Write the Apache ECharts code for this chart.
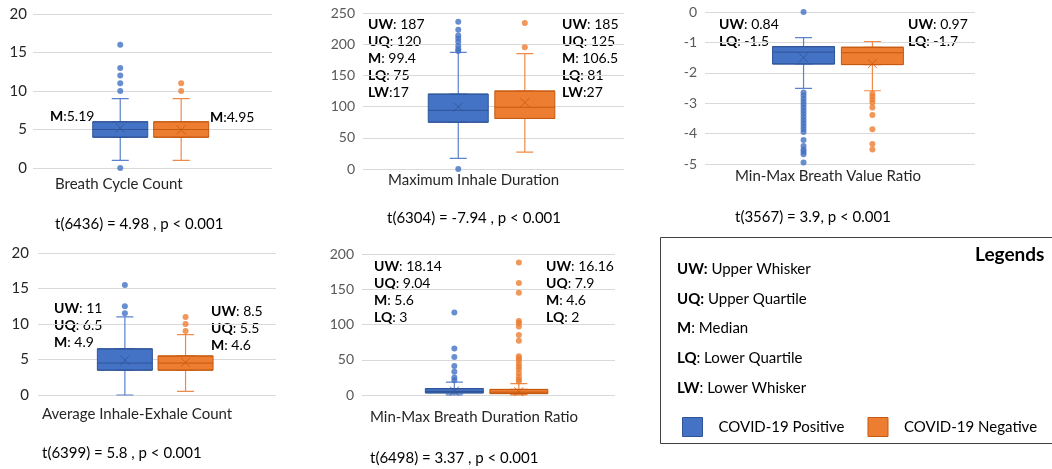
<!DOCTYPE html>
<html>
<head>
<meta charset="utf-8">
<script src="https://cdn.jsdelivr.net/npm/echarts@6/dist/echarts.min.js"></script>
<style>
  html, body { margin: 0; padding: 0; background: #fff; }
  #chart { width: 1052px; height: 469px; }
</style>
</head>
<body>
<div id="chart"></div>
<script>
// ---- Data -------------------------------------------------------------
const groupNames = ['COVID-19 Positive', 'COVID-19 Negative'];

// Box values: [lower whisker, lower quartile, median, upper quartile, upper whisker]
// Breath Cycle Count
const cycleTitle = 'Breath Cycle Count';
const cycleTest = 't(6436) = 4.98 , p < 0.001';
const cycleAxis = [0, 20, 5];
const cycleBoxPos = [1, 4, 5, 6, 9];
const cycleBoxNeg = [1, 4, 5, 6, 9];
const cycleMean = [5.19, 4.95];
const cycleOutPos = [16, 13, 12, 11, 10, 0];
const cycleOutNeg = [11, 10];
const cycleNotesPos = [['M', ':5.19']];
const cycleNotesNeg = [['M', ':4.95']];

// Maximum Inhale Duration
const inhaleTitle = 'Maximum Inhale Duration';
const inhaleTest = 't(6304) = -7.94 , p < 0.001';
const inhaleAxis = [0, 250, 50];
const inhaleBoxPos = [17, 75, 94, 120, 187];
const inhaleBoxNeg = [27, 81, 99, 125, 185];
const inhaleMean = [99.4, 106.5];
const inhaleOutPos = [236, 223, 214, 209, 204, 197, 192, 189, 0];
const inhaleOutNeg = [234, 195];
const inhaleNotesPos = [['UW', ': 187'], ['UQ', ': 120'], ['M', ': 99.4'], ['LQ', ': 75'], ['LW', ':17']];
const inhaleNotesNeg = [['UW', ': 185'], ['UQ', ': 125'], ['M', ': 106.5'], ['LQ', ': 81'], ['LW', ':27']];

// Min-Max Breath Value Ratio
const valueTitle = 'Min-Max Breath Value Ratio';
const valueTest = 't(3567) = 3.9, p < 0.001';
const valueAxis = [-5, 0, 1];
const valueBoxPos = [-2.51, -1.71, -1.32, -1.14, -0.84];
const valueBoxNeg = [-2.59, -1.73, -1.34, -1.16, -0.97];
const valueMean = [-1.5, -1.7];
const valueOutPos = [0, -2.65, -2.75, -2.85, -2.95, -3.05, -3.15, -3.25, -3.35, -3.45, -3.55,
  -3.65, -3.75, -3.85, -3.95, -4.21, -4.41, -4.52, -4.6, -4.68, -4.95];
const valueOutNeg = [-2.68, -2.78, -2.88, -2.98, -3.14, -3.39, -3.86, -4.34, -4.52];
const valueNotesPos = [['UW', ': 0.84'], ['LQ', ': -1.5']];
const valueNotesNeg = [['UW', ': 0.97'], ['LQ', ': -1.7']];

// Average Inhale-Exhale Count
const avgTitle = 'Average Inhale-Exhale Count';
const avgTest = 't(6399) = 5.8 , p < 0.001';
const avgAxis = [0, 20, 5];
const avgBoxPos = [0, 3.5, 4.5, 6.5, 11];
const avgBoxNeg = [0.5, 3.5, 4.5, 5.5, 8.5];
const avgMean = [4.9, 4.6];
const avgOutPos = [15.5, 12.5, 11.5];
const avgOutNeg = [11, 10, 9];
const avgNotesPos = [['UW', ': 11'], ['UQ', ': 6.5'], ['M', ': 4.9']];
const avgNotesNeg = [['UW', ': 8.5'], ['UQ', ': 5.5'], ['M', ': 4.6']];

// Min-Max Breath Duration Ratio
const durTitle = 'Min-Max Breath Duration Ratio';
const durTest = 't(6498) = 3.37 , p < 0.001';
const durAxis = [0, 200, 50];
const durBoxPos = [0.3, 3, 5, 9.04, 18.14];
const durBoxNeg = [0.3, 2, 4, 7.9, 16.16];
const durMean = [5.6, 4.6];
const durOutPos = [117, 66, 54, 41, 33, 25, 21];
const durOutNeg = [188, 159, 145, 105, 102, 97, 85, 77, 55, 52, 49, 44, 40, 36, 31, 26, 22, 19];
const durNotesPos = [['UW', ': 18.14'], ['UQ', ': 9.04'], ['M', ': 5.6'], ['LQ', ': 3']];
const durNotesNeg = [['UW', ': 16.16'], ['UQ', ': 7.9'], ['M', ': 4.6'], ['LQ', ': 2']];

// Legend key
const legendTitle = 'Legends';
const legendKey = [['UW:', ' Upper Whisker'], ['UQ:', ' Upper Quartile'], ['M', ': Median'],
  ['LQ', ': Lower Quartile'], ['LW', ': Lower Whisker']];

// ---- Layout & style ---------------------------------------------------
const FONT = 'Lato, "Open Sans", sans-serif';
const fill = ['#4472C4', '#ED7D31'];
const edge = ['#2F5597', '#C55A11'];
const whisk = ['#5B82CB', '#EE8A48'];
const slot = [0.365, 0.62];   // horizontal position of each group inside a panel

const panels = [
  { title: cycleTitle, test: cycleTest, axis: cycleAxis, box: [cycleBoxPos, cycleBoxNeg], mean: cycleMean,
    out: [cycleOutPos, cycleOutNeg], notes: [cycleNotesPos, cycleNotesNeg],
    rect: { left: 33, top: 14, width: 239, height: 154 }, tickColor: '#262626', tickSize: 15, tickMargin: 6,
    notePos: [[50, 116], [210, 117]], titlePos: [55, 184], testPos: [55, 224] },
  { title: inhaleTitle, test: inhaleTest, axis: inhaleAxis, box: [inhaleBoxPos, inhaleBoxNeg], mean: inhaleMean,
    out: [inhaleOutPos, inhaleOutNeg], notes: [inhaleNotesPos, inhaleNotesNeg],
    rect: { left: 363, top: 13, width: 261, height: 156 }, tickColor: '#595959', tickSize: 14, tickMargin: 8,
    notePos: [[368, 24], [562, 24]], titlePos: [388, 180], testPos: [387, 218] },
  { title: valueTitle, test: valueTest, axis: valueAxis, box: [valueBoxPos, valueBoxNeg], mean: valueMean,
    out: [valueOutPos, valueOutNeg], notes: [valueNotesPos, valueNotesNeg],
    rect: { left: 705, top: 12, width: 270, height: 152 }, tickColor: '#595959', tickSize: 14, tickMargin: 8,
    notePos: [[719, 24], [908, 24]], titlePos: [735, 176], testPos: [735, 217] },
  { title: avgTitle, test: avgTest, axis: avgAxis, box: [avgBoxPos, avgBoxNeg], mean: avgMean,
    out: [avgOutPos, avgOutNeg], notes: [avgNotesPos, avgNotesNeg],
    rect: { left: 38, top: 253, width: 238, height: 142 }, tickColor: '#262626', tickSize: 15, tickMargin: 9,
    notePos: [[54, 308], [211, 311]], titlePos: [42, 414], testPos: [42, 453] },
  { title: durTitle, test: durTest, axis: durAxis, box: [durBoxPos, durBoxNeg], mean: durMean,
    out: [durOutPos, durOutNeg], notes: [durNotesPos, durNotesNeg],
    rect: { left: 362, top: 254, width: 253, height: 141 }, tickColor: '#595959', tickSize: 14, tickMargin: 8,
    notePos: [[374, 266], [546, 266]], titlePos: [370, 417], testPos: [370, 458] }
];

const NOTE_STEP = 17;
const crossPath = 'path://M0,0L10,10M10,0L0,10';

const grid = [], xAxis = [], yAxis = [], series = [], graphic = [];

panels.forEach(function (p, pi) {
  grid.push(Object.assign({ containLabel: false }, p.rect));
  yAxis.push({
    type: 'value', gridIndex: pi, min: p.axis[0], max: p.axis[1], interval: p.axis[2],
    axisLine: { show: false }, axisTick: { show: false },
    splitLine: { lineStyle: { color: '#D9D9D9', width: 1 } },
    axisLabel: { color: p.tickColor, fontSize: p.tickSize, fontFamily: FONT, margin: p.tickMargin }
  });
  const boxW = Math.round(p.rect.width * 0.23);
  // four hidden x axes per panel: whisker + box layer for each group
  const axisBase = xAxis.length;
  for (let k = 0; k < 4; k++) {
    xAxis.push({ type: 'value', gridIndex: pi, min: 0, max: 1, show: false });
  }
  [0, 1].forEach(function (g) {
    const b = p.box[g];
    const x = slot[g];
    // whiskers with short caps
    series.push({
      type: 'boxplot', xAxisIndex: axisBase + g * 2, yAxisIndex: pi, boxWidth: [17, 17],
      silent: true, z: 2,
      itemStyle: { color: fill[g], borderColor: whisk[g], borderWidth: 1.2 },
      data: [[x].concat(b)]
    });
    // box body with the median line
    series.push({
      type: 'boxplot', name: groupNames[g], xAxisIndex: axisBase + g * 2 + 1, yAxisIndex: pi,
      boxWidth: [boxW, boxW], silent: true, z: 3,
      itemStyle: { color: fill[g], borderColor: edge[g], borderWidth: 1 },
      data: [[x, b[1], b[1], b[2], b[3], b[3]]]
    });
    // outliers
    series.push({
      type: 'scatter', xAxisIndex: axisBase + g * 2, yAxisIndex: pi, symbol: 'circle', symbolSize: 6,
      silent: true, z: 4, clip: false,
      itemStyle: { color: fill[g] },
      data: p.out[g].map(function (v) { return [x, v]; })
    });
    // mean marker
    series.push({
      type: 'scatter', xAxisIndex: axisBase + g * 2, yAxisIndex: pi, symbol: crossPath, symbolSize: 9,
      silent: true, z: 5,
      itemStyle: { color: 'none', borderColor: edge[g], borderWidth: 1 },
      data: [[x, p.mean[g]]]
    });
    // value notes
    p.notes[g].forEach(function (n, ni) {
      graphic.push({
        type: 'text', x: p.notePos[g][0], y: p.notePos[g][1] + ni * NOTE_STEP, silent: true,
        style: {
          text: '{b|' + n[0] + '}' + n[1], fill: '#000', font: '14px ' + FONT, verticalAlign: 'middle',
          rich: { b: { fontWeight: 'bold', fontSize: 14, fontFamily: FONT, fill: '#000' } }
        }
      });
    });
  });
  graphic.push({
    type: 'text', x: p.titlePos[0], y: p.titlePos[1], silent: true,
    style: { text: p.title, fill: '#262626', font: '15px ' + FONT, verticalAlign: 'middle' }
  });
  graphic.push({
    type: 'text', x: p.testPos[0], y: p.testPos[1], silent: true,
    style: { text: p.test, fill: '#000', font: '15px ' + FONT, verticalAlign: 'middle' }
  });
});

// legend frame and key
graphic.push({
  type: 'rect', shape: { x: 660.5, y: 237.5, width: 400, height: 206 }, silent: true,
  style: { fill: 'none', stroke: '#404040', lineWidth: 1 }
});
graphic.push({
  type: 'text', x: 975, y: 255, silent: true,
  style: { text: legendTitle, fill: '#000', font: 'bold 19px ' + FONT, verticalAlign: 'middle' }
});
legendKey.forEach(function (k, i) {
  graphic.push({
    type: 'text', x: 677, y: 269 + i * 29.8, silent: true,
    style: {
      text: '{b|' + k[0] + '}' + k[1], fill: '#000', font: '15px ' + FONT, verticalAlign: 'middle',
      rich: { b: { fontWeight: 'bold', fontSize: 15, fontFamily: FONT, fill: '#000' } }
    }
  });
});

const chart = echarts.init(document.getElementById('chart'), null, { renderer: 'canvas' });
chart.setOption({
  animation: false,
  grid: grid,
  xAxis: xAxis,
  yAxis: yAxis,
  series: series,
  graphic: graphic,
  legend: {
    left: 677, top: 412, itemWidth: 20, itemHeight: 19, itemGap: 23, selectedMode: false,
    icon: 'rect',
    data: groupNames.map(function (n, i) {
      return { name: n, itemStyle: { color: fill[i], borderColor: edge[i], borderWidth: 1 } };
    }),
    textStyle: { fontSize: 15, fontFamily: FONT, color: '#000', padding: [0, 0, 0, 11] }
  }
});
</script>
</body>
</html>
